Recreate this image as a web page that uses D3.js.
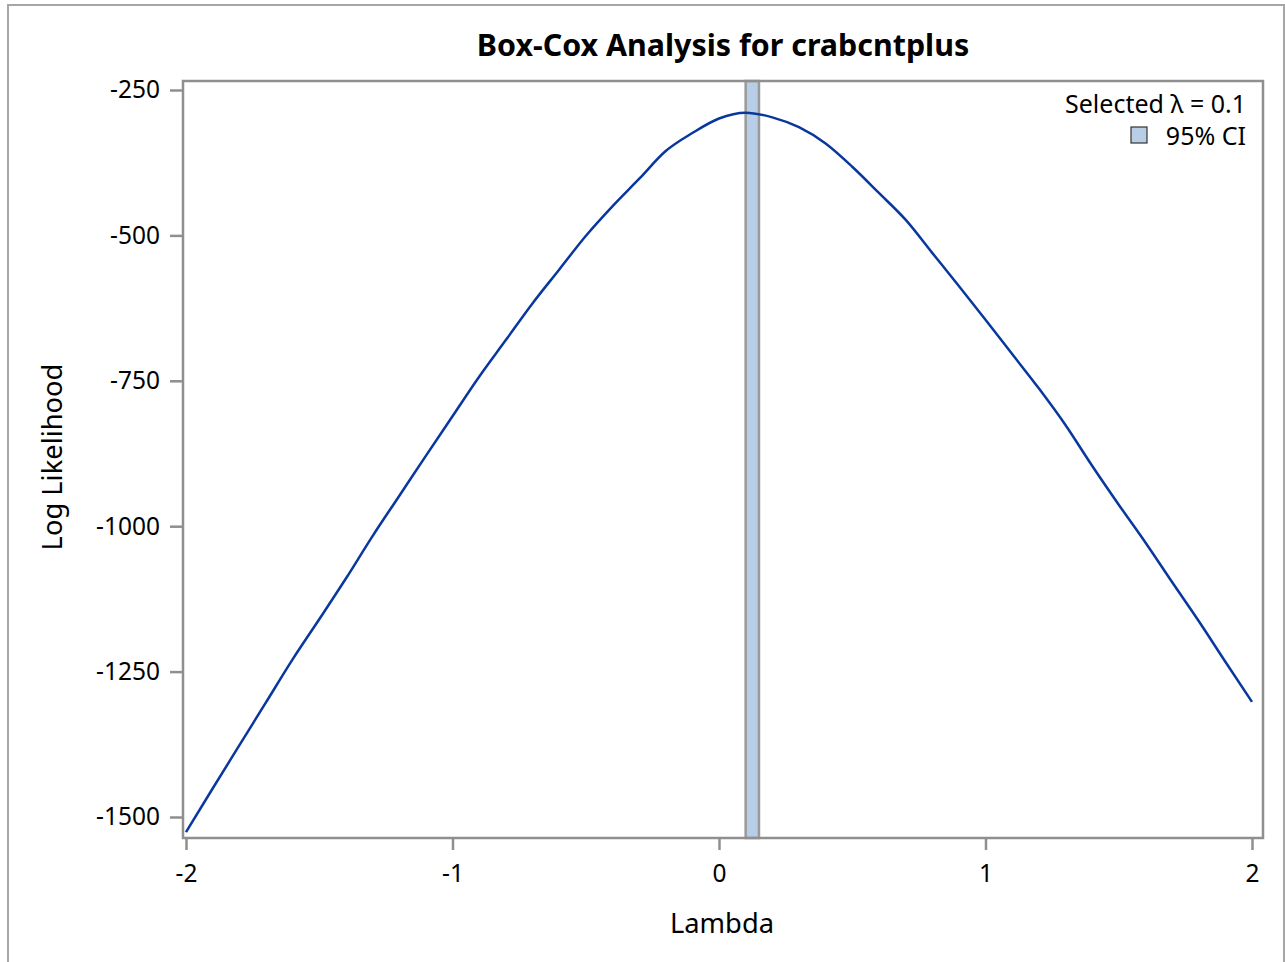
<!DOCTYPE html>
<html>
<head>
<meta charset="utf-8">
<script src="https://cdn.jsdelivr.net/npm/d3@7"></script>
<style>
  html, body { margin: 0; padding: 0; background: #fff; }
  svg { display: block; }
  text { font-family: "Noto Sans", "Open Sans", "DejaVu Sans", sans-serif; fill: #000; }
</style>
</head>
<body>
<svg id="chart" width="1285" height="962"></svg>
<script>
// Box-Cox profile log likelihood over the lambda grid
const lambdas = [-2.0, -1.9, -1.8, -1.7, -1.6, -1.5, -1.4, -1.3, -1.2, -1.1,
                 -1.0, -0.9, -0.8, -0.7, -0.6, -0.5, -0.4, -0.3, -0.2, -0.1,
                  0.0,  0.1,  0.2,  0.3,  0.4,  0.5,  0.6,  0.7,  0.8,  0.9,
                  1.0,  1.1,  1.2,  1.3,  1.4,  1.5,  1.6,  1.7,  1.8,  1.9, 2.0];
const logLik = [-1526, -1451, -1377, -1303, -1229, -1160, -1090, -1017, -948, -879,
                 -811,  -743,  -680,  -617,  -559,  -501,  -450,  -403, -355, -324,
                 -299,  -289,  -297,  -314,  -342,  -382,  -427,  -473, -530, -587,
                 -645,  -704,  -763,  -826,  -896,  -963, -1028, -1096, -1163, -1233, -1302];

// 95% confidence interval for lambda and the selected value
const ciBounds = [0.10, 0.15];
const selectedLambda = 0.1;

const xTicks = [-2, -1, 0, 1, 2];
const yTicks = [-250, -500, -750, -1000, -1250, -1500];

const titleText = "Box-Cox Analysis for crabcntplus";
const xLabel = "Lambda";
const yLabel = "Log Likelihood";

const svg = d3.select("#chart");
const axisGray = "#8f8f8f";
const ciFill = "#b8cde6";

// outer graph border
svg.append("rect")
  .attr("x", 8).attr("y", 5)
  .attr("width", 1276).attr("height", 970)
  .attr("fill", "none").attr("stroke", "#a6a6a6").attr("stroke-width", 2);

const frame = { left: 183, top: 81, right: 1263, bottom: 838 };

const x = d3.scaleLinear().domain([-2, 2]).range([186, 1252]);
const y = d3.scaleLinear().domain([-250, -1500]).range([90, 817]);

// CI band
svg.append("rect")
  .attr("x", x(ciBounds[0]))
  .attr("y", frame.top)
  .attr("width", x(ciBounds[1]) - x(ciBounds[0]))
  .attr("height", frame.bottom - frame.top)
  .attr("fill", ciFill)
  .attr("stroke", "#9a9a9a")
  .attr("stroke-width", 2.5);

// likelihood curve
const pts = lambdas.map((l, i) => [l, logLik[i]]);
svg.append("path")
  .datum(pts)
  .attr("fill", "none")
  .attr("stroke", "#08389e")
  .attr("stroke-width", 2.5)
  .attr("stroke-linejoin", "round")
  .attr("d", d3.line().curve(d3.curveMonotoneX).x(d => x(d[0])).y(d => y(d[1])));

// plot frame
svg.append("rect")
  .attr("x", frame.left).attr("y", frame.top)
  .attr("width", frame.right - frame.left).attr("height", frame.bottom - frame.top)
  .attr("fill", "none").attr("stroke", axisGray).attr("stroke-width", 2.5);

const tickFont = 24.5;
const minus = d => (d < 0 ? "-" + Math.abs(d) : String(d));

// x axis
const xAxis = svg.append("g")
  .attr("transform", `translate(0,${frame.bottom})`)
  .call(d3.axisBottom(x).tickValues(xTicks).tickSize(12).tickPadding(15));
xAxis.select(".domain").remove();
xAxis.selectAll(".tick line").attr("stroke", axisGray).attr("stroke-width", 2.5);
xAxis.selectAll(".tick text").attr("font-size", tickFont).attr("fill", "#000")
  .style("font-family", "'Noto Sans', 'Open Sans', sans-serif")
  .text(minus);

// y axis
const yAxis = svg.append("g")
  .attr("transform", `translate(${frame.left},0)`)
  .call(d3.axisLeft(y).tickValues(yTicks).tickSize(13).tickPadding(10));
yAxis.select(".domain").remove();
yAxis.selectAll(".tick line").attr("stroke", axisGray).attr("stroke-width", 2.5);
yAxis.selectAll(".tick text").attr("font-size", tickFont).attr("fill", "#000")
  .style("font-family", "'Noto Sans', 'Open Sans', sans-serif")
  .text(minus);

// title
svg.append("text")
  .attr("x", 723).attr("y", 56)
  .attr("text-anchor", "middle")
  .attr("font-size", 30.4).attr("font-weight", "bold")
  .text(titleText);

// axis labels
svg.append("text")
  .attr("x", 722).attr("y", 933)
  .attr("text-anchor", "middle")
  .attr("font-size", 27.3)
  .text(xLabel);

svg.append("text")
  .attr("transform", "translate(62,457) rotate(-90)")
  .attr("text-anchor", "middle")
  .attr("font-size", 27.3)
  .text(yLabel);

// legend
svg.append("text")
  .attr("x", 1246).attr("y", 113)
  .attr("text-anchor", "end")
  .attr("font-size", 25)
  .text("Selected λ = " + selectedLambda);

svg.append("rect")
  .attr("x", 1131).attr("y", 127)
  .attr("width", 16).attr("height", 16)
  .attr("fill", ciFill).attr("stroke", "#333").attr("stroke-width", 1.2);

svg.append("text")
  .attr("x", 1246).attr("y", 145)
  .attr("text-anchor", "end")
  .attr("font-size", 25)
  .text("95% CI");
</script>
</body>
</html>
